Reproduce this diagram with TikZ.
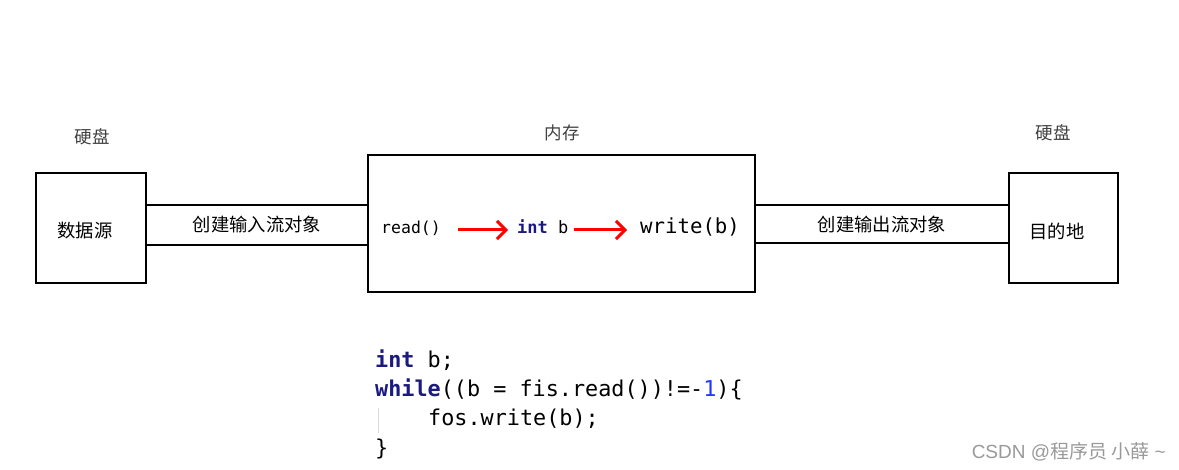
\documentclass[tikz,border=0pt]{standalone}
\usepackage{fontspec}
\setmainfont{Liberation Sans}
\setmonofont{DejaVu Sans Mono}
\newfontfamily\cjk{Noto Sans CJK SC}
\usetikzlibrary{arrows.meta}
\definecolor{kw}{HTML}{1A1A80}
\definecolor{lbl}{HTML}{404040}
\definecolor{num}{HTML}{2233FF}
\begin{document}
\begin{tikzpicture}[x=1pt,y=-1pt,
  boxx/.style={draw,line width=2.8pt,inner sep=0pt},
  chan/.style={line width=2.8pt},
  lbl/.style={font=\cjk\fontsize{17.5}{20}\selectfont,text=lbl},
  cn/.style={font=\cjk\fontsize{18.3}{20}\selectfont},
  flow/.style={anchor=base west,inner sep=0pt,text height=12pt,text depth=4pt},
  redarr/.style={draw=red,line width=3pt,-{Straight Barb[length=9pt,width=18pt,line width=3pt]}},
  code/.style={anchor=base west,inner sep=0pt,font=\ttfamily\fontsize{21.8}{26}\selectfont}]
\useasboundingbox (0,0) rectangle (1179,470);
% boxes
\node[boxx,minimum width=110pt,minimum height=110pt] (src) at (91,228) {};
\node[boxx,minimum width=387pt,minimum height=137pt] (mem) at (561.5,223.5) {};
\node[boxx,minimum width=109pt,minimum height=110pt] (dst) at (1063.5,228) {};
% box texts
\node[cn] (srct) at (85,231) {数据源};
\node[cn] (dstt) at (1057,231) {目的地};
% top labels
\node[lbl] (l1) at (92,137) {硬盘};
\node[lbl] (l2) at (562,133) {内存};
\node[lbl] (l3) at (1053,133) {硬盘};
% channels
\draw[chan] (src.east |- 0,205) -- (mem.west |- 0,205);
\draw[chan] (src.east |- 0,245) -- (mem.west |- 0,245);
\draw[chan] (mem.east |- 0,205) -- (dst.west |- 0,205);
\draw[chan] (mem.east |- 0,243) -- (dst.west |- 0,243);
\node[cn] (in) at (257,225) {创建输入流对象};
\node[cn] (out) at (882,225) {创建输出流对象};
% inner flow
\node[flow,font=\ttfamily\fontsize{16.5}{20}\selectfont] (rd) at (381,234) {read()};
\node[flow,font=\ttfamily\fontsize{17}{20}\selectfont] (ib) at (517,234) {\textcolor{kw}{\bfseries int} b};
\node[flow,font=\ttfamily\fontsize{20.7}{24}\selectfont] (wr) at (640,234) {write(b)};
\draw[redarr,shorten <=17pt,shorten >=9pt] (rd) -- (ib);
\draw[redarr,shorten <=5pt,shorten >=13pt] (ib) -- (wr);
% code
\node[code] (c1) at (375,368) {\textcolor{kw}{\bfseries int} b;};
\node[code] (c2) at (375,397) {\textcolor{kw}{\bfseries while}((b = fis.read())!=-\textcolor{num}{1})\{};
\node[code] (c3) at (428,426) {fos.write(b);};
\node[code] (c4) at (375,455) {\}};
\coordinate (g1) at (378,408);
\coordinate (g2) at (378,433);
\draw[black!15,line width=1pt] (g1) -- (g2);
% watermark
\node[anchor=east,inner sep=0pt,text=black!40,font=\fontsize{19}{21}\selectfont] (wm) at (1166,452) {CSDN @{\cjk 程序员 小薛} \textasciitilde};
\end{tikzpicture}
\end{document}
